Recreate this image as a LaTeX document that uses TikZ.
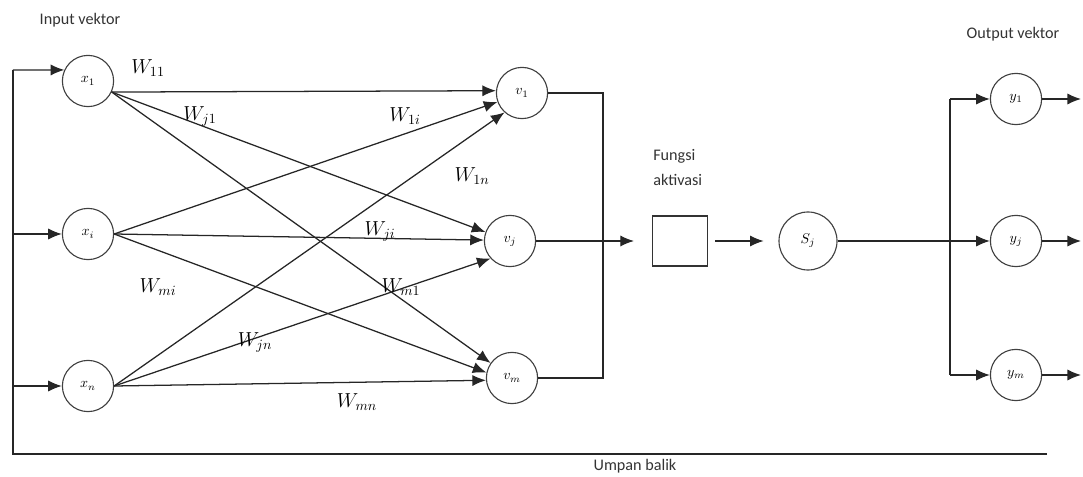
\documentclass[tikz,border=0pt]{standalone}
\usepackage{fontspec}
\setmainfont{Carlito}
\usetikzlibrary{arrows.meta,calc}

\begin{document}
\begin{tikzpicture}[x=0.025cm,y=-0.025cm]

\tikzset{inner sep=0mm,
neuron/.style={circle,draw=black!75,thick,minimum size=1.28cm,font=\normalsize},
actbox/.style={draw=black!80,thick,minimum width=1.375cm,minimum height=1.25cm},
wire/.style={line width=0.9pt,black!85},
syn/.style={->,>={Latex[length=3.4mm,width=2.8mm]},line width=0.9pt,black!85},
wlabel/.style={font=\Large},
caption/.style={font=\fontsize{11.5}{13}\selectfont,text=black!80}}

\useasboundingbox (0,0) rectangle (1083,477);

% Input layer
\node[neuron] (x1) at (88,81) {$x_1$};
\node[neuron] (xi) at (88,234) {$x_i$};
\node[neuron] (xn) at (88,386) {$x_n$};

% Hidden layer
\node[neuron] (v1) at (522,93) {$v_1$};
\node[neuron] (vj) at (510,241) {$v_j$};
\node[neuron] (vm) at (512,378) {$v_m$};

% Activation and state
\node[actbox] (act) at (680,241) {};
\node[neuron,minimum size=1.45cm] (sj) at (808,241) {$S_j$};

% Output layer
\node[neuron] (y1) at (1016,99) {$y_1$};
\node[neuron] (yj) at (1016,241) {$y_j$};
\node[neuron] (ym) at (1016,375) {$y_m$};

% Feedback path
\coordinate (fbtop) at (13,70);
\coordinate (fbbot) at (13,454);
\coordinate (fbend) at (1047,454);
\draw[wire] (fbend) -- (fbbot) -- (fbtop);
\draw[syn] (fbtop) -- (x1.155);
\draw[syn] (fbbot |- xi) -- (xi.west);
\draw[syn] (fbbot |- xn) -- (xn.west);

% Weights
\draw[syn] (x1.-25) -- (v1.175);
\draw[syn] (x1.-25) -- (vj.160);
\draw[syn] (x1.-25) -- (vm.145);
\draw[syn] (xi.east) -- (v1.200);
\draw[syn] (xi.east) -- (vj.178);
\draw[syn] (xi.east) -- (vm.168);
\draw[syn] (xn.east) -- (v1.228);
\draw[syn] (xn.east) -- (vj.222);
\draw[syn] (xn.east) -- (vm.185);

% Hidden outputs
\coordinate (hsum) at (603,241);
\draw[wire] (v1.east) -| (hsum) |- (vm.east);
\draw[syn,shorten >=0.45cm] (vj.east) -- (act.west);
\draw[syn,shorten <=0.18cm,shorten >=0.37cm] (act.east) -- (sj.west);

% Output fan
\coordinate (obus) at (950,241);
\draw[wire] (sj.east) -- (obus);
\draw[wire] (obus |- y1) -- (obus |- ym);
\draw[syn] (obus |- y1) -- (y1.west);
\draw[syn] (obus) -- (yj.west);
\draw[syn] (obus |- ym) -- (ym.west);
\coordinate (o1) at (1081,99);
\coordinate (oj) at (1081,241);
\coordinate (om) at (1081,375);
\draw[syn] (y1.east) -- (o1);
\draw[syn] (yj.east) -- (oj);
\draw[syn] (ym.east) -- (om);

% Weight labels
\node[wlabel] (w11) at (148,68) {$W_{11}$};
\node[wlabel] (wj1) at (200,116) {$W_{j1}$};
\node[wlabel] (w1i) at (405,116) {$W_{1i}$};
\node[wlabel] (w1n) at (472,176) {$W_{1n}$};
\node[wlabel] (wji) at (380,231) {$W_{ji}$};
\node[wlabel] (wmi) at (158,287) {$W_{mi}$};
\node[wlabel] (wm1) at (401,287) {$W_{m1}$};
\node[wlabel] (wjn) at (255,342) {$W_{jn}$};
\node[wlabel] (wmn) at (357,402) {$W_{mn}$};

% Captions
\node[caption] (inlbl) at (80,20) {Input vektor};
\node[caption] (outlbl) at (1013,34) {Output vektor};
\node[caption,anchor=west] (fung) at (653,156) {Fungsi};
\node[caption,anchor=west] (aktiv) at (653,180) {aktivasi};
\node[caption] (umpan) at (635,466) {Umpan balik};

\end{tikzpicture}
\end{document}
